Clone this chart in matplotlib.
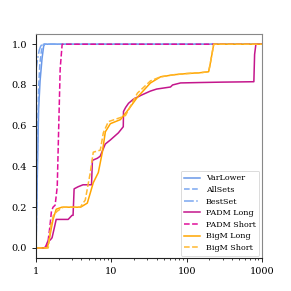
import numpy as np
import matplotlib
matplotlib.use("Agg")
import matplotlib.pyplot as plt
from matplotlib.ticker import FixedLocator, FixedFormatter

# performance profile data (ratio, fraction of instances)
varlower_x = [1, 1.02, 1.05, 1.08, 1.13, 1.2, 1.26, 1.3, 1000]
varlower_y = [0, 0.2, 0.45, 0.68, 0.82, 0.93, 0.99, 1.0, 1.0]
allsets_x = [1, 1.02, 1.05, 1.08, 1.12, 1.18, 1.25, 1000]
allsets_y = [0, 0.25, 0.55, 0.78, 0.9, 0.97, 1.0, 1.0]
bestset_x = [1, 1.001, 1.05, 1.1, 1.15, 1.2, 1000]
bestset_y = [0, 0.88, 0.93, 0.97, 0.99, 1.0, 1.0]

padm_long_x = [1, 1.32, 1.42, 1.55, 1.63, 1.75, 1.85, 2.2, 2.67, 3.0, 3.1, 3.2,
               3.6, 4.2, 5.0, 5.45, 5.6, 6.5, 7.1, 8.3, 9.7, 12.4, 14.4, 14.5,
               15.5, 16.9, 19.6, 25, 33, 40, 61, 65, 83, 150, 300, 500, 782, 800, 832, 1000]
padm_long_y = [0, 0, 0.03, 0.04, 0.05, 0.1, 0.14, 0.14, 0.14, 0.16, 0.16, 0.29,
               0.3, 0.31, 0.31, 0.31, 0.43, 0.44, 0.45, 0.51, 0.53, 0.565, 0.595, 0.67,
               0.69, 0.71, 0.73, 0.75, 0.77, 0.78, 0.79, 0.8, 0.81, 0.812, 0.814, 0.815, 0.816, 0.95, 1.0, 1.0]
padm_short_x = [1, 1.28, 1.38, 1.45, 1.52, 1.6, 1.68, 1.79, 1.91, 2.0, 2.09, 2.22, 1000]
padm_short_y = [0, 0, 0.01, 0.04, 0.1, 0.18, 0.2, 0.21, 0.3, 0.6, 0.88, 1.0, 1.0]

bigm_long_x = [1, 1.4, 1.48, 1.6, 1.68, 1.85, 2.2, 2.84, 3.9, 4.79, 5.25, 5.75, 6.71,
               7.59, 8.32, 9.7, 13.2, 16.9, 22.2, 33.1, 45, 67, 100, 150,
               196, 205, 229, 1000]
bigm_long_y = [0, 0, 0.03, 0.1, 0.14, 0.19, 0.2, 0.2, 0.2, 0.22, 0.27, 0.32, 0.37,
               0.47, 0.57, 0.61, 0.63, 0.68, 0.74, 0.81, 0.84, 0.85, 0.856, 0.86,
               0.865, 0.9, 1.0, 1.0]
bigm_short_x = [1, 1.45, 1.55, 1.7, 1.9, 2.3, 3.0, 3.86, 4.5, 5.25, 5.75, 7.13, 7.82,
                9.12, 13.2, 15.4, 22.2, 33.1, 45, 67, 100, 150,
                196, 205, 229, 1000]
bigm_short_y = [0, 0, 0.1, 0.16, 0.18, 0.2, 0.2, 0.2, 0.235, 0.37, 0.47, 0.48, 0.565,
                0.62, 0.64, 0.65, 0.76, 0.82, 0.84, 0.85, 0.856, 0.86,
                0.865, 0.9, 1.0, 1.0]

plt.rcParams['font.family'] = 'DejaVu Serif'
fig = plt.figure(figsize=(2.91, 2.91), dpi=100)
ax = fig.add_axes([0.124, 0.113, 0.776, 0.77])

ax.plot(varlower_x, varlower_y, color='#6a98e8', lw=1.1, label='VarLower')
ax.plot(allsets_x, allsets_y, color='#7aa7f0', lw=1.1, ls='--', label='AllSets')
ax.plot(bestset_x, bestset_y, color='#7aa7f0', lw=1.1, ls='-.', label='BestSet')
ax.plot(padm_long_x, padm_long_y, color='#c4168c', lw=1.1, label='PADM Long')
ax.plot(padm_short_x, padm_short_y, color='#e0109a', lw=1.1, ls='--', label='PADM Short')
ax.plot(bigm_long_x, bigm_long_y, color='#ffa500', lw=1.1, label='BigM Long')
ax.plot(bigm_short_x, bigm_short_y, color='#ffb830', lw=1.1, ls='--', label='BigM Short')

ax.set_xscale('log')
ax.set_xlim(1, 1000)
ax.set_ylim(-0.05, 1.05)
ax.xaxis.set_major_locator(FixedLocator([1, 10, 100, 1000]))
ax.xaxis.set_major_formatter(FixedFormatter(['1', '10', '100', '1000']))
ax.set_yticks([0.0, 0.2, 0.4, 0.6, 0.8, 1.0])
ax.tick_params(labelsize=7, length=3, width=0.6)
ax.tick_params(which='minor', length=1.5, width=0.5)
for s in ax.spines.values():
    s.set_color('#888888')
ax.spines['left'].set_color('#222222')
ax.spines['bottom'].set_color('#222222')

leg = ax.legend(loc='lower right', fontsize=5.8, handlelength=1.9, labelspacing=0.45,
                borderpad=0.45, handletextpad=0.8, borderaxespad=0.3)
leg.get_frame().set_linewidth(0.6)

fig.savefig('out.png', dpi=100)
